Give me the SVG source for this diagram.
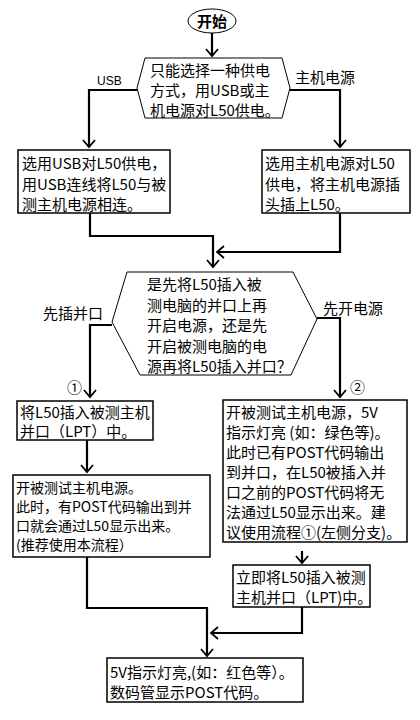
<svg xmlns="http://www.w3.org/2000/svg" width="420" height="720" viewBox="0 0 420 720">
<defs>
<marker id="ah" markerUnits="userSpaceOnUse" viewBox="-8 -7 10 14" refX="0" refY="0" markerWidth="10" markerHeight="14" orient="auto">
<path d="M-7,-6 L0,0 L-7,6" fill="none" stroke="#000" stroke-width="1.8"/>
</marker>
<style>
.t{font-family:"Noto Sans CJK SC","Liberation Sans",sans-serif;font-size:15px;fill:#000}
.s{font-size:14px}
.box{fill:#fff;stroke:#000;stroke-width:1.5}
.hex{fill:#fff;stroke:#000;stroke-width:1}
.c{fill:none;stroke:#000;stroke-width:2.2}
.ca{fill:none;stroke:#000;stroke-width:2.2;marker-end:url(#ah)}
</style>
</defs>
<rect width="420" height="720" fill="#fff"/>
<g id="connectors">
<path class="ca" d="M212,33 V56"/>
<path class="ca" d="M137,90 H89 V147"/>
<path class="ca" d="M290,90 H340 V147"/>
<path class="ca" d="M90,213 V236 H213 V267"/>
<path class="ca" d="M340,213 V252 H217"/>
<path class="ca" d="M112,325 H90 V397"/>
<path class="ca" d="M317,318 H340 V397"/>
<path class="ca" d="M87,440 V472"/>
<path class="ca" d="M302,551 V563"/>
<path class="ca" d="M302,607 V633 H211"/>
<path class="ca" d="M87,557 V608 H207 V656"/>
</g>
<g id="start">
<ellipse cx="212" cy="21" rx="24" ry="12" fill="#fff" stroke="#000" stroke-width="1"/>
<text class="t" x="212" y="27" text-anchor="middle" font-weight="bold" font-size="16">开始</text>
</g>
<g id="choose">
<polygon class="hex" points="145,58 282,58 290,88 282,118 145,118 137,88"/>
<text class="t" x="150" y="76">只能选择一种供电</text>
<text class="t" x="150" y="96">方式，用USB或主</text>
<text class="t" x="150" y="116">机电源对L50供电。</text>
</g>
<g id="labels">
<text x="97" y="85" font-family="Liberation Sans,sans-serif" font-size="12">USB</text>
<text class="t" x="295" y="83">主机电源</text>
<text class="t" x="43" y="319">先插并口</text>
<text class="t" x="323" y="314">先开电源</text>
<text class="t" x="67" y="393" font-size="14">①</text>
<text class="t" x="350" y="393" font-size="14">②</text>
</g>
<g id="usb">
<rect class="box" x="18" y="150" width="152" height="63"/>
<text class="t" x="22" y="169">选用USB对L50供电，</text>
<text class="t" x="22" y="190">用USB连线将L50与被</text>
<text class="t" x="22" y="210">测主机电源相连。</text>
</g>
<g id="mainpower">
<rect class="box" x="262" y="150" width="148" height="63"/>
<text class="t" x="265" y="169">选用主机电源对L50</text>
<text class="t" x="265" y="190">供电，将主机电源插</text>
<text class="t" x="265" y="210">头插上L50。</text>
</g>
<g id="decide">
<polygon class="hex" points="127,272 293,272 317,319 291,375 140,375 112,322"/>
<text class="t" x="147" y="290">是先将L50插入被</text>
<text class="t" x="147" y="311">测电脑的并口上再</text>
<text class="t" x="147" y="331">开启电源，还是先</text>
<text class="t" x="147" y="352">开启被测电脑的电</text>
<text class="t" x="147" y="372">源再将L50插入并口？</text>
</g>
<g id="plugfirst">
<rect class="box" x="17" y="401" width="136" height="39"/>
<text class="t" x="20" y="418">将L50插入被测主机</text>
<text class="t" x="20" y="437">并口（LPT）中。</text>
</g>
<g id="poweron">
<rect class="box" x="13" y="475" width="197" height="82"/>
<text class="t s" x="16" y="493">开被测试主机电源。</text>
<text class="t s" x="16" y="512">此时，有POST代码输出到并</text>
<text class="t s" x="16" y="531">口就会通过L50显示出来。</text>
<text class="t s" x="16" y="550">(推荐使用本流程）</text>
</g>
<g id="powerfirst">
<rect class="box" x="223" y="400" width="184" height="142"/>
<text class="t" x="226" y="418">开被测试主机电源，5V</text>
<text class="t" x="226" y="438">指示灯亮 (如：绿色等)。</text>
<text class="t" x="226" y="458">此时已有POST代码输出</text>
<text class="t" x="226" y="478">到并口，在L50被插入并</text>
<text class="t" x="226" y="498">口之前的POST代码将无</text>
<text class="t" x="226" y="518">法通过L50显示出来。建</text>
<text class="t" x="226" y="538">议使用流程①(左侧分支)。</text>
</g>
<g id="plugnow">
<rect class="box" x="233" y="565" width="137" height="42"/>
<text class="t" x="236" y="583">立即将L50插入被测</text>
<text class="t" x="236" y="603">主机并口（LPT)中。</text>
</g>
<g id="result">
<rect class="box" x="107" y="658" width="196" height="44"/>
<text class="t" x="110" y="678">5V指示灯亮,(如：红色等）。</text>
<text class="t" x="110" y="698">数码管显示POST代码。</text>
</g>
</svg>
